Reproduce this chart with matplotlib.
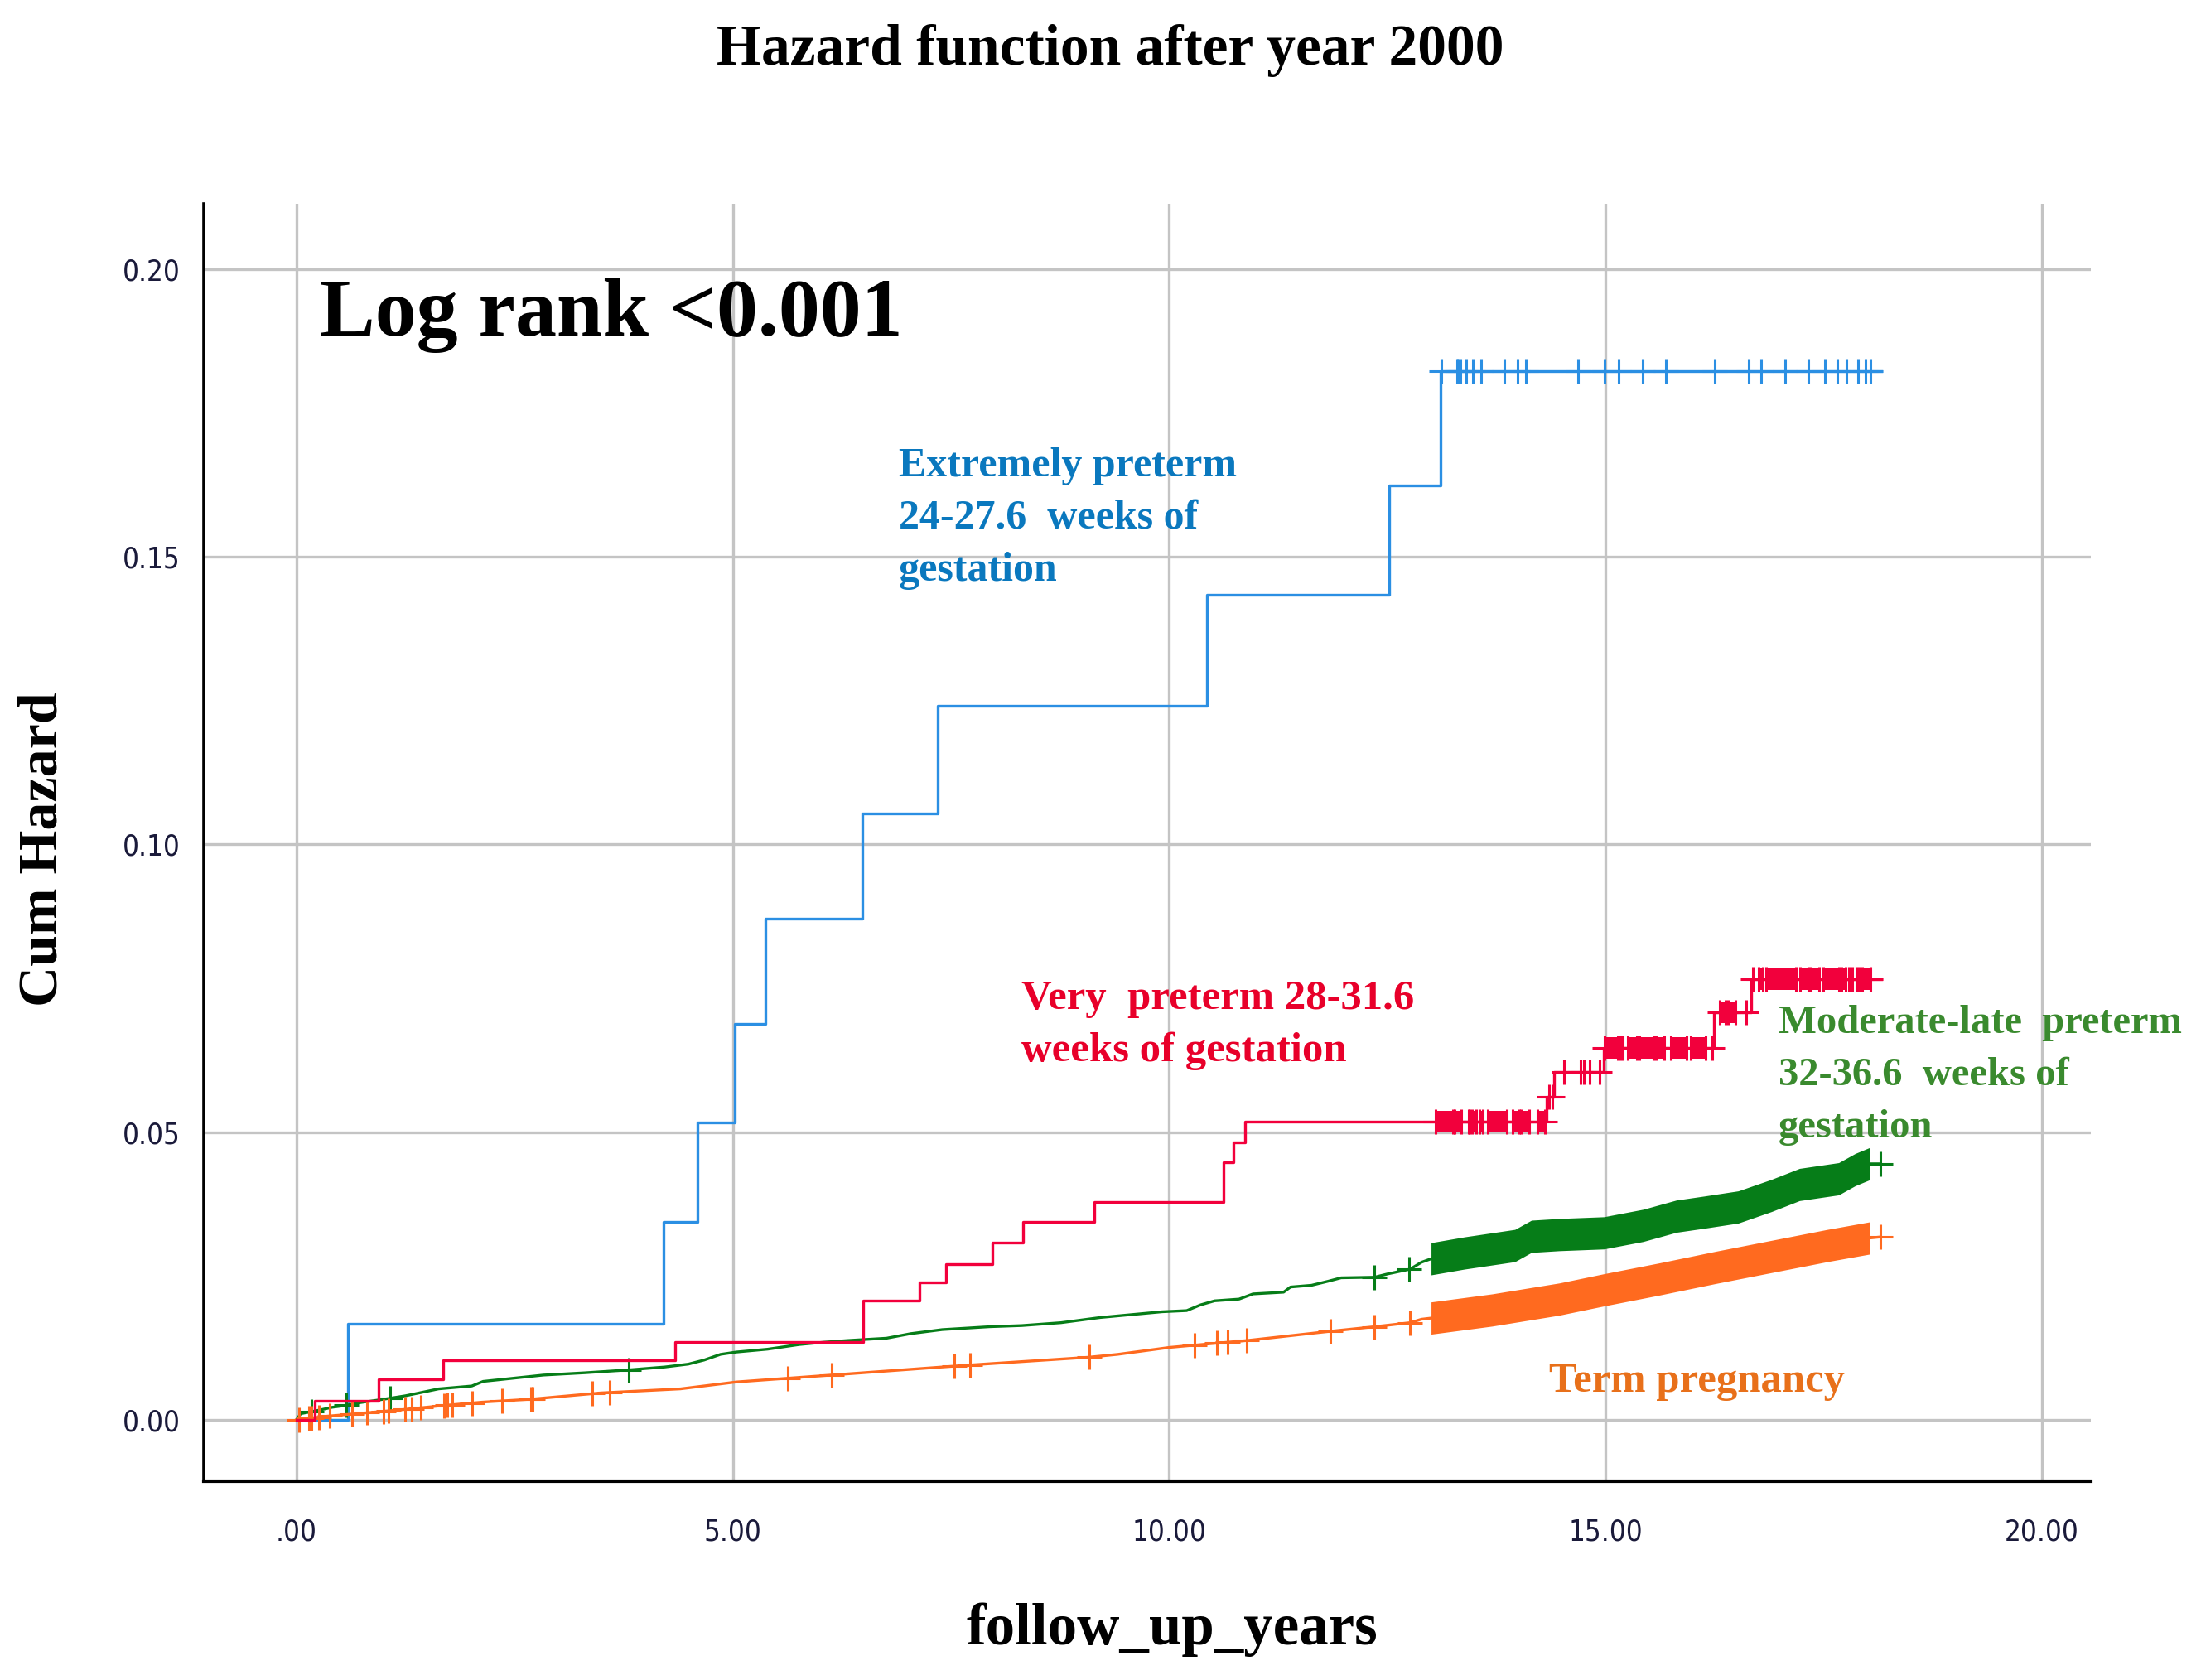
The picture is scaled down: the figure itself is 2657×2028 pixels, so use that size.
import numpy as np
import matplotlib
matplotlib.use("Agg")
import matplotlib.pyplot as plt

# ---------------- data ----------------
title = "Hazard function after year 2000"
x_label = "follow_up_years"
y_label = "Cum Hazard"
x_ticks = [0, 5, 10, 15, 20]
x_tick_labels = [".00", "5.00", "10.00", "15.00", "20.00"]
y_ticks = [0.00, 0.05, 0.10, 0.15, 0.20]
y_tick_labels = ["0.00", "0.05", "0.10", "0.15", "0.20"]

# Extremely preterm (step function)
blue_t = [0.00, 0.59, 4.21, 4.60, 5.02, 5.37, 6.48, 7.35, 10.43, 12.52, 13.11, 18.16]
blue_v = [0.000, 0.0167, 0.0344, 0.0517, 0.0688, 0.0871, 0.1054, 0.1241, 0.1434, 0.1624, 0.1822, 0.1822]
blue_cens = [13.12, 13.30, 13.31, 13.34, 13.40, 13.48, 13.57, 13.84, 13.99, 14.09, 14.68,
             14.99, 15.15, 15.42, 15.69, 16.25, 16.64, 16.78, 17.06, 17.32, 17.51, 17.65,
             17.76, 17.89, 17.98, 18.03]

# Very preterm (step function)
red_t = [0.00, 0.21, 0.94, 1.68, 4.34, 6.49, 7.14, 7.44, 7.97, 8.33, 9.14, 10.62, 10.74,
         10.87, 14.32, 14.41, 14.98, 16.24, 16.67, 18.16]
red_v = [0.000, 0.0033, 0.0071, 0.0104, 0.0135, 0.0208, 0.0239, 0.0271, 0.0308, 0.0344,
         0.0379, 0.0448, 0.0482, 0.0518, 0.0561, 0.0604, 0.0646, 0.0708, 0.0766, 0.0766]
# censored intervals (start, end); start == end is a single censor mark
red_cens = [(13.05, 13.25), (13.27, 13.35), (13.43, 13.44), (13.47, 13.52), (13.55, 13.59),
            (13.65, 13.87), (13.93, 14.01), (14.03, 14.12), (14.22, 14.30),
            (14.35, 14.35), (14.39, 14.39),
            (14.52, 14.52), (14.71, 14.71), (14.75, 14.75), (14.82, 14.82), (14.93, 14.93),
            (14.99, 15.14), (15.17, 15.20), (15.25, 15.36), (15.39, 15.55), (15.58, 15.67),
            (15.75, 15.93), (15.97, 16.15), (16.22, 16.22),
            (16.31, 16.37), (16.40, 16.49), (16.61, 16.61),
            (16.69, 16.69), (16.75, 16.80), (16.84, 17.18), (17.23, 17.32), (17.35, 17.45),
            (17.49, 17.67), (17.70, 17.75), (17.79, 17.83), (17.87, 17.90), (17.94, 18.03)]

# Moderate-late preterm
green_t = [0.00, 0.05, 0.16, 0.29, 0.41, 0.56, 0.68, 1.00, 1.25, 1.63, 2.01, 2.14, 2.83,
           3.31, 3.81, 4.22, 4.49, 4.67, 4.86, 5.04, 5.40, 5.76, 6.04, 6.31, 6.76, 7.04,
           7.40, 7.94, 8.31, 8.76, 9.21, 9.92, 10.20, 10.36, 10.52, 10.80, 10.96, 11.31,
           11.39, 11.63, 11.82, 11.97, 12.35, 12.51, 12.76, 12.89, 13.00, 13.38, 13.96,
           14.15, 14.47, 14.98, 15.43, 15.81, 16.13, 16.52, 16.90, 17.22, 17.67, 17.86,
           18.02, 18.15]
green_v = [0.0000, 0.0011, 0.0014, 0.0018, 0.0022, 0.0025, 0.0029, 0.0036, 0.0042, 0.0054,
           0.0059, 0.0067, 0.0078, 0.0082, 0.0087, 0.0092, 0.0097, 0.0104, 0.0114, 0.0118,
           0.0123, 0.0131, 0.0135, 0.0138, 0.0142, 0.0150, 0.0157, 0.0162, 0.0164, 0.0169,
           0.0178, 0.0188, 0.0190, 0.0200, 0.0207, 0.0210, 0.0219, 0.0222, 0.0231, 0.0234,
           0.0241, 0.0247, 0.0248, 0.0254, 0.0262, 0.0274, 0.0280, 0.0290, 0.0303, 0.0319,
           0.0322, 0.0325, 0.0338, 0.0354, 0.0361, 0.0370, 0.0390, 0.0409, 0.0419, 0.0435,
           0.0445, 0.0445]
green_cens = [0.17, 0.57, 1.07, 3.81, 12.35, 12.75, 18.15]
green_dense = (13.00, 18.02)

# Term pregnancy
orange_t = [0.00, 0.31, 0.77, 1.22, 1.68, 2.13, 2.68, 3.49, 4.40, 5.04, 6.13, 7.67, 9.08,
            9.41, 10.00, 10.29, 10.89, 11.84, 12.35, 12.76, 12.89, 13.00, 13.70, 14.47,
            14.98, 15.62, 16.26, 16.90, 17.54, 18.02, 18.15]
orange_v = [0.0000, 0.0006, 0.0012, 0.0018, 0.0025, 0.0031, 0.0036, 0.0047, 0.0054, 0.0066,
            0.0078, 0.0095, 0.0109, 0.0114, 0.0126, 0.0130, 0.0138, 0.0154, 0.0162, 0.0169,
            0.0175, 0.0177, 0.0191, 0.0210, 0.0226, 0.0245, 0.0265, 0.0284, 0.0303, 0.0316,
            0.0318]
orange_cens = [0.035, 0.145, 0.177, 0.256, 0.38, 0.64, 0.81, 1.00, 1.06, 1.25, 1.32, 1.43,
               1.69, 1.73, 1.79, 2.01, 2.36, 2.69, 2.71, 3.39, 3.59, 5.63, 6.13, 7.54, 7.72,
               9.08, 10.29, 10.55, 10.67, 10.89, 11.85, 12.35, 12.76, 18.15]
orange_dense = (13.00, 18.02)

# annotations
log_rank_text = "Log rank <0.001"
blue_label = ["Extremely preterm", "24-27.6  weeks of", "gestation"]
red_label = ["Very  preterm 28-31.6", "weeks of gestation"]
green_label = ["Moderate-late  preterm", "32-36.6  weeks of", "gestation"]
orange_label = ["Term pregnancy"]

# ---------------- style ----------------
C_BLUE = "#2b8fe3"
C_RED = "#f2003c"
C_GREEN = "#067d18"
C_ORANGE = "#ff6a1f"
T_BLUE = "#0a78be"
T_RED = "#e8002a"
T_GREEN = "#3a8a2e"
T_ORANGE = "#e8701a"
SERIF = ["Liberation Serif", "DejaVu Serif"]
TICKFONT = ["Liberation Sans Narrow", "DejaVu Sans"]

fig = plt.figure(figsize=(26.57, 20.28), dpi=100)
ax = fig.add_axes([0.0925, 0.1183, 0.8575, 0.7604])

ax.set_xlim(-1.063, 20.56)
ax.set_ylim(-0.01065, 0.2113)

ax.set_xticks(x_ticks)
ax.set_xticklabels(x_tick_labels)
ax.set_yticks(y_ticks)
ax.set_yticklabels(y_tick_labels)
ax.tick_params(axis="both", length=0, labelsize=25, colors="#1a1a3a")
ax.tick_params(axis="x", pad=32)
ax.tick_params(axis="y", pad=20)
for lab in ax.get_xticklabels() + ax.get_yticklabels():
    lab.set_family(TICKFONT)
    lab.set_fontstretch("condensed")

ax.grid(True, color="#c4c4c4", linewidth=2.4)
ax.set_axisbelow(True)
for s in ["top", "right"]:
    ax.spines[s].set_visible(False)
ax.spines["left"].set_linewidth(2.6)
ax.spines["bottom"].set_linewidth(3.0)

MS = 21
MEW = 2.2
LW = 2.4
H_BAND = 0.0028
H_RED = 0.0019


def step_at(ts, vs, t):
    i = np.searchsorted(np.asarray(ts), t, side="right") - 1
    return np.asarray(vs)[max(i, 0)]


# blue
ax.step(blue_t, blue_v, where="post", color=C_BLUE, lw=LW, zorder=3)
ax.plot(blue_cens, [step_at(blue_t, blue_v, t) for t in blue_cens], ls="none",
        marker="+", ms=MS, mew=MEW, color=C_BLUE, zorder=3)

# red
ax.step(red_t, red_v, where="post", color=C_RED, lw=LW, zorder=4)
for s, e in red_cens:
    y = step_at(red_t, red_v, s)
    if e > s:
        ax.fill_between([s, e], [y - H_RED] * 2, [y + H_RED] * 2, color=C_RED, lw=0, zorder=4)
        ax.plot([s, e], [y, y], ls="none", marker="+", ms=MS, mew=MEW, color=C_RED, zorder=4)
    else:
        ax.plot([s], [y], ls="none", marker="+", ms=MS, mew=MEW, color=C_RED, zorder=4)

# green
gt = np.array(green_t)
gv = np.array(green_v)
ax.plot(gt, gv, color=C_GREEN, lw=LW, zorder=3)
m = (gt >= green_dense[0]) & (gt <= green_dense[1])
ax.fill_between(gt[m], gv[m] - H_BAND, gv[m] + H_BAND, color=C_GREEN, lw=0, zorder=3)
ax.plot(green_cens, np.interp(green_cens, gt, gv), ls="none", marker="+", ms=MS, mew=MEW,
        color=C_GREEN, zorder=3)

# orange
ot = np.array(orange_t)
ov = np.array(orange_v)
ax.plot(ot, ov, color=C_ORANGE, lw=LW, zorder=3)
m = (ot >= orange_dense[0]) & (ot <= orange_dense[1])
ax.fill_between(ot[m], ov[m] - H_BAND, ov[m] + H_BAND, color=C_ORANGE, lw=0, zorder=3)
ax.plot(orange_cens, np.interp(orange_cens, ot, ov), ls="none", marker="+", ms=MS, mew=MEW,
        color=C_ORANGE, zorder=3)

# annotations
LINE_STEP = 0.00905


def put_lines(lines, x, y0, color, size):
    for k, line in enumerate(lines):
        ax.text(x, y0 - k * LINE_STEP, line, color=color, fontsize=size, family=SERIF,
                fontweight="bold", ha="left", va="baseline", zorder=6)


ax.text(0.27, 0.1884, log_rank_text, fontsize=72, family=SERIF, fontweight="bold",
        color="black", ha="left", va="baseline", zorder=6)
put_lines(blue_label, 6.90, 0.1639, T_BLUE, 36)
put_lines(red_label, 8.31, 0.0714, T_RED, 36.5)
put_lines(green_label, 16.98, 0.0672, T_GREEN, 35)
put_lines(orange_label, 14.35, 0.0049, T_ORANGE, 36.5)

# titles
fig.text(1340 / 2657, 1 - 78 / 2028, title, fontsize=50, family=SERIF, fontweight="bold",
         ha="center", va="baseline")
fig.text(1415 / 2657, 1 - 1985 / 2028, x_label, fontsize=51, family=SERIF,
         fontweight="bold", ha="center", va="baseline")
fig.text(52 / 2657, 1 - 1025 / 2028, y_label, fontsize=49, family=SERIF, fontweight="bold",
         rotation=90, ha="center", va="center")

fig.savefig("out.png", dpi=100)
